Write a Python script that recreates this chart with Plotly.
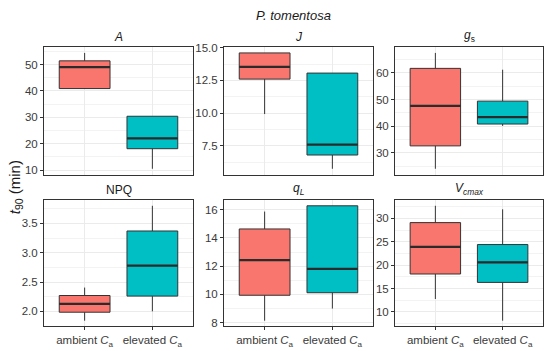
import plotly.graph_objects as go

# ---- data ----
panel_titles = ["<i>A</i>", "<i>J</i>", "<i>g</i><sub>s</sub>",
                "NPQ", "<i>q</i><sub><i>L</i></sub>", "<i>V</i><sub><i>cmax</i></sub>"]
groups = ["ambient <i>C</i><sub>a</sub>", "elevated <i>C</i><sub>a</sub>"]

amb_min = [40.8, 9.93, 24.0, 1.84, 8.14, 12.75]
amb_q1  = [40.9, 12.6, 32.6, 1.985, 9.94, 18.1]
amb_med = [49.0, 13.53, 47.6, 2.126, 12.42, 23.9]
amb_q3  = [51.4, 14.6, 61.7, 2.27, 14.63, 29.1]
amb_max = [54.4, 14.6, 67.5, 2.405, 15.86, 32.7]

elv_min = [10.5, 5.75, 40.1, 2.0, 9.0, 8.1]
elv_q1  = [18.1, 6.8, 40.8, 2.26, 10.12, 16.3]
elv_med = [22.0, 7.6, 43.4, 2.78, 11.8, 20.6]
elv_q3  = [30.4, 13.06, 49.4, 3.37, 16.27, 24.4]
elv_max = [30.4, 13.06, 61.2, 3.80, 16.27, 31.95]

y_dticks = [10, 2.5, 10, 0.5, 2, 5]
y_formats = ["", ".1f", "", ".1f", "", ""]

colors = ["#F8766D", "#00BFC4"]
BOXW = 0.75

# ---- layout geometry (paper fractions) ----
W, H = 550, 351
xdom = [(44 / W, 193 / W), (224 / W, 373 / W), (395 / W, 543 / W)]
ydom = [(1 - 173 / H, 1 - 43 / H), (1 - 328 / H, 1 - 199 / H)]

fig = go.Figure()
layout = {}
annotations = []
FONT = "Liberation Sans, Arial"

for i in range(6):
    r, c = divmod(i, 3)
    n = i + 1
    xa = "x" if n == 1 else f"x{n}"
    ya = "y" if n == 1 else f"y{n}"
    stats = [
        (amb_min[i], amb_q1[i], amb_med[i], amb_q3[i], amb_max[i]),
        (elv_min[i], elv_q1[i], elv_med[i], elv_q3[i], elv_max[i]),
    ]
    for g, (mn, q1, md, q3, mx) in enumerate(stats):
        fig.add_trace(go.Box(
            x=[g], q1=[q1], median=[md], q3=[q3], lowerfence=[mn], upperfence=[mx],
            width=BOXW, fillcolor=colors[g], line=dict(color="#333333", width=1),
            whiskerwidth=0, boxpoints=False, showlegend=False, hoverinfo="skip",
            xaxis=xa, yaxis=ya,
        ))
        # thicker median line
        fig.add_trace(go.Scatter(
            x=[g - BOXW / 2, g + BOXW / 2], y=[md, md], mode="lines",
            line=dict(color="#2b2b2b", width=2.2), showlegend=False,
            hoverinfo="skip", xaxis=xa, yaxis=ya,
        ))
    lo = min(amb_min[i], elv_min[i])
    hi = max(amb_max[i], elv_max[i])
    pad = 0.05 * (hi - lo)
    axis_common = dict(showline=True, mirror=True, linecolor="#333333", linewidth=1,
                       zeroline=False, gridcolor="#EBEBEB", gridwidth=1)
    key_x = "xaxis" if n == 1 else f"xaxis{n}"
    key_y = "yaxis" if n == 1 else f"yaxis{n}"
    layout[key_x] = dict(
        domain=list(xdom[c]), anchor=ya, range=[-0.6, 1.6],
        tickmode="array", tickvals=[0, 1], ticktext=groups,
        showticklabels=(r == 1),
        ticks="outside" if r == 1 else "", ticklen=3, tickcolor="#333333",
        tickfont=dict(family=FONT, size=11.5, color="#3a3a3a"),
        showgrid=True, **axis_common,
    )
    layout[key_y] = dict(
        domain=list(ydom[r]), anchor=xa, range=[lo - pad, hi + pad],
        dtick=y_dticks[i], tick0=0, tickformat=y_formats[i],
        ticks="outside", ticklen=3, tickcolor="#333333",
        tickfont=dict(family=FONT, size=11.5, color="#3a3a3a"),
        minor=dict(showgrid=True, gridcolor="#F3F3F3", gridwidth=0.6,
                   dtick=y_dticks[i] / 2, tick0=0),
        showgrid=True, **axis_common,
    )
    annotations.append(dict(
        text=panel_titles[i], xref="paper", yref="paper",
        x=(xdom[c][0] + xdom[c][1]) / 2, y=ydom[r][1], yanchor="bottom",
        xanchor="center", yshift=1, showarrow=False,
        font=dict(family=FONT, size=12, color="#1a1a1a"),
    ))

annotations.append(dict(
    text="<i>P. tomentosa</i>", xref="paper", yref="paper",
    x=(xdom[0][0] + xdom[2][1]) / 2, y=1 - 11 / H, yanchor="middle", xanchor="center",
    showarrow=False, font=dict(family=FONT, size=13, color="#1a1a1a"),
))
annotations.append(dict(
    text="<i>t</i><sub>90</sub> (min)", xref="paper", yref="paper",
    x=15 / W, y=1 - 186 / H, xanchor="center", yanchor="middle", textangle=-90,
    showarrow=False, font=dict(family=FONT, size=15, color="#1a1a1a"),
))

fig.update_layout(
    width=W, height=H, margin=dict(l=0, r=0, t=0, b=0),
    paper_bgcolor="white", plot_bgcolor="white",
    annotations=annotations, **layout,
)

fig.write_html("out.html", config={"displayModeBar": False},
               post_script="document.body.style.margin='0';document.body.style.overflow='hidden';")
